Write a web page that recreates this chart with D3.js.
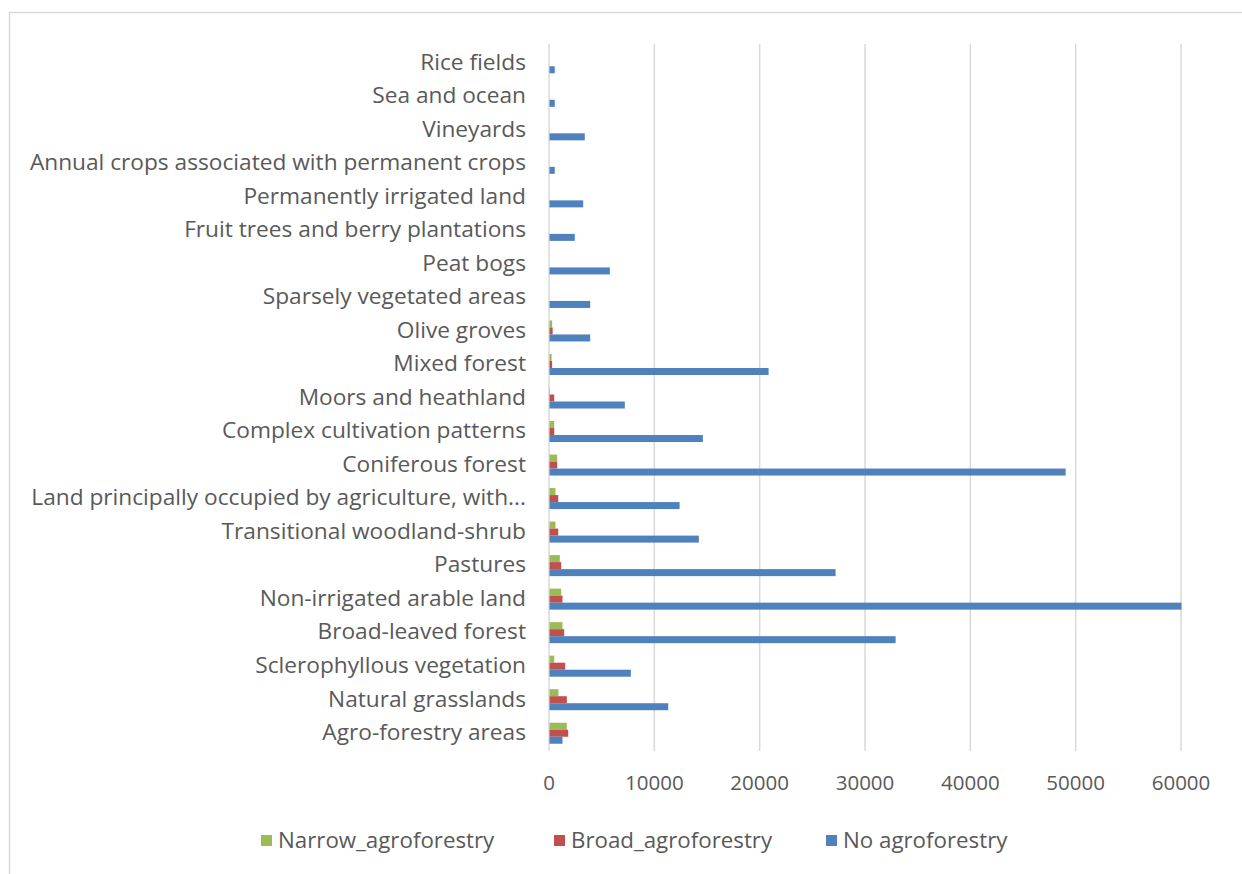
<!DOCTYPE html>
<html>
<head>
<meta charset="utf-8">
<script src="https://cdn.jsdelivr.net/npm/d3@7"></script>
<style>
  body { margin: 0; background: #fff; }
  text { font-family: "Open Sans", "DejaVu Sans", sans-serif; fill: #595959; }
</style>
</head>
<body>
<div id="chart"></div>
<script>
// ------------- DATA ------------- //
var categories = [
  "Rice fields", "Sea and ocean", "Vineyards",
  "Annual crops associated with permanent crops", "Permanently irrigated land",
  "Fruit trees and berry plantations", "Peat bogs", "Sparsely vegetated areas",
  "Olive groves", "Mixed forest", "Moors and heathland", "Complex cultivation patterns",
  "Coniferous forest", "Land principally occupied by agriculture, with...",
  "Transitional woodland-shrub", "Pastures", "Non-irrigated arable land",
  "Broad-leaved forest", "Sclerophyllous vegetation", "Natural grasslands",
  "Agro-forestry areas"
];
var seriesNames = ["Narrow_agroforestry", "Broad_agroforestry", "No agroforestry"];
var narrow = [0, 0, 0, 0, 0, 0, 0, 0, 250, 200, 50, 450, 730, 570, 570, 980, 1110, 1235, 450, 855, 1645];
var broad = [0, 0, 0, 0, 0, 0, 0, 0, 300, 250, 450, 450, 730, 830, 830, 1110, 1235, 1395, 1490, 1645, 1775];
var noAgro = [500, 500, 3350, 500, 3200, 2400, 5730, 3860, 3860, 20800, 7150, 14560, 49000, 12350, 14180, 27160, 60000, 32860, 7720, 11270, 1235];
var xTicks = [0, 10000, 20000, 30000, 40000, 50000, 60000];
var colors = ["#9BBB59", "#C0504D", "#4F81BD"];

// ------------- LAYOUT ------------- //
var W = 1242, H = 874;
var plotLeft = 549, plotRight = 1181, plotTop = 46, plotBottom = 750;

var svg = d3.select("#chart").append("svg")
  .attr("width", W).attr("height", H);

// outer chart border (runs off right and bottom)
svg.append("rect")
  .attr("x", 9.5).attr("y", 12.5)
  .attr("width", 1300).attr("height", 1000)
  .attr("fill", "none").attr("stroke", "#d9d9d9").attr("stroke-width", 1.5);

var x = d3.scaleLinear().domain([0, 60000]).range([plotLeft, plotRight]);

var y0 = d3.scaleBand().domain(categories)
  .range([plotTop, plotBottom])
  .paddingInner(0.373).paddingOuter(0.1865);

var y1 = d3.scaleBand().domain(seriesNames).range([0, y0.bandwidth()]);

var rows = categories.map(function(c, i) {
  return { cat: c, vals: [narrow[i], broad[i], noAgro[i]] };
});

// gridlines
svg.append("g").selectAll("line")
  .data(xTicks)
  .enter().append("line")
  .attr("x1", function(d) { return x(d); })
  .attr("x2", function(d) { return x(d); })
  .attr("y1", 44).attr("y2", 751)
  .attr("stroke", "#d9d9d9").attr("stroke-width", 1.5);

// tick labels
svg.append("g").selectAll("text")
  .data(xTicks)
  .enter().append("text")
  .attr("x", function(d) { return x(d); })
  .attr("y", 790)
  .attr("text-anchor", "middle")
  .style("font-size", "20.5px")
  .text(function(d) { return d; });

// bars
var groups = svg.append("g").selectAll("g")
  .data(rows)
  .enter().append("g")
  .attr("transform", function(d) { return "translate(0," + y0(d.cat) + ")"; });

groups.selectAll("rect")
  .data(function(d) { return d.vals; })
  .enter().append("rect")
  .attr("x", x(0) + 0.5)
  .attr("y", function(d, i) { return y1(seriesNames[i]); })
  .attr("width", function(d) { return Math.max(0, x(d) - x(0)); })
  .attr("height", y1.bandwidth())
  .attr("fill", function(d, i) { return colors[i]; });

// category labels
svg.append("g").selectAll("text")
  .data(categories)
  .enter().append("text")
  .attr("x", 526)
  .attr("y", function(d) { return y0(d) + y0.bandwidth() / 2; })
  .attr("dy", "0.3em")
  .attr("text-anchor", "end")
  .style("font-size", "22.7px")
  .text(function(d) { return d; });

// ------------- LEGEND ------------- //
var legendX = [261, 554, 826];
var legend = svg.append("g").selectAll("g")
  .data(seriesNames)
  .enter().append("g")
  .attr("transform", function(d, i) { return "translate(" + legendX[i] + ",835)"; });

legend.append("rect")
  .attr("width", 11).attr("height", 11)
  .attr("fill", function(d, i) { return colors[i]; });

legend.append("text")
  .attr("x", 17).attr("y", 6)
  .attr("dy", "0.33em")
  .style("font-size", "22.3px")
  .text(function(d) { return d; });
</script>
</body>
</html>
